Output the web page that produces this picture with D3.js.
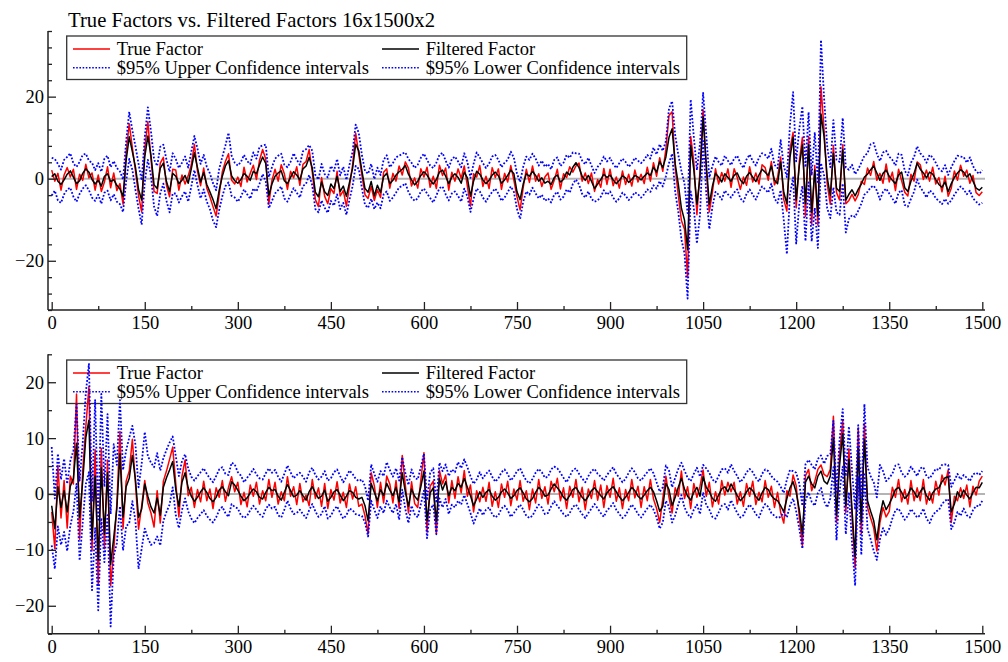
<!DOCTYPE html>
<html><head><meta charset="utf-8">
<script src="https://cdn.jsdelivr.net/npm/d3@7"></script>
<style>
body{margin:0;background:#fff;}
svg{display:block;font-family:"Liberation Serif","Times New Roman",serif;}
</style></head><body>
<svg id="chart" width="1008" height="662"></svg>
<script>
const title = "True Factors vs. Filtered Factors 16x1500x2";
const legendLabels = ["True Factor", "Filtered Factor", "$95% Upper Confidence intervals", "$95% Lower Confidence intervals"];
const xTicks = [0,150,300,450,600,750,900,1050,1200,1350,1500];
const xMinor = [75,225,375,525,675,825,975,1125,1275,1425];
const yTicks1 = [-20,0,20];
const yMinor1 = [-32,-28,-24,-16,-12,-8,-4,4,8,12,16,24,28,32,36];
const yTicks2 = [-20,-10,0,10,20];
const yMinor2 = [-25,-15,-5,5,15,25];
// sample times (every 5 steps)
const times = d3.range(0, 1501, 5);

// ---- Panel 1 ----
const true1 = [
2.1,-0.6,1.3,-2.8,0.9,2.7,0.4,2.3,-2.6,1.1, -0.4,3.5,0.2,1.4,-2.8,0.9,-3.1,-0.8,2.9,-2.2,
1.4,-2.9,-1.2,-6.2,6.4,13.4,7.6,1.9,-4.2,-8.1, 7.2,13.9,4.8,-3.1,-3.6,3.8,5.2,-1.6,-4.4,2.3,
2.1,-2.8,0.9,-1.3,0.7,3.4,8.4,1.8,-1.7,2.6, -2.3,-4.4,-6.8,-9.1,-3.9,1.7,4.2,6.1,-0.4,-1.3,
0.4,-1.9,2.8,-0.8,1.3,3.3,-0.2,4.5,7.1,4.8, -6.2,-0.4,2.3,-0.6,3.4,1.2,-2.6,1.8,0.2,2.9,
-1.6,3.5,4.2,7.1,1.6,-5.1,-6.8,0.3,-4.3,-6.1, -2.4,-3.6,1.8,-4.2,-2.9,-6.7,-1.8,3.4,11.1,5.9,
0.8,-3.9,-4.8,-1.9,-5.3,-2.7,-4.6,1.6,2.4,-2.3, 1.3,-0.6,3.1,0.9,4.1,2.6,-1.8,0.2,-2.3,2.4,
0.4,2.8,-2.1,0.6,-2.4,3.3,0.8,2.6,-2.8,1.6, -0.6,2.4,0.1,3.1,-1.8,-6.7,1.2,0.4,3.2,-1.9,
0.6,-2.4,2.7,0.3,2.4,-2.6,1.3,-0.8,3.2,-0.4, -4.4,-7.6,-2.2,2.3,-0.9,3.1,-0.6,1.2,-1.9,0.4,
1.4,-2.6,-0.4,2.3,-2.5,1.2,0.3,2.9,1.6,3.1, 3.8,-0.6,1.4,-1.2,1.4,-3.1,-0.2,-2.1,2.5,-1.4,
2.3,-1.7,0.4,-2.3,1.9,-1.4,1.1,-1.8,2.1,-0.8, 1.1,-1.2,2.8,-0.6,3.9,0.6,5.1,1.8,7.2,15.4,
16.3,2.7,-4.1,-10.2,-12.3,-24.1,10.3,4.2,-8.8,2.1, 16.8,2.3,-8.1,-3.2,2.4,-1.3,1.5,-0.6,2.4,-2.1,
2.4,0.3,-2.6,0.4,-1.6,2.9,-0.8,1.4,-1.3,3.4, 2.7,-0.4,4.2,-1.5,0.3,5.3,-5.1,-7.9,7.2,11.3,
-7.1,4.2,10.1,-9.2,10.3,-11.1,3.2,-11.3,22.4,11.8, -1.3,-6.2,8.1,-3.4,-5.2,8.3,-6.1,-5.3,-3.8,-5.4,
-3.9,-0.6,-1.4,2.6,0.8,4.2,-0.4,1.3,-1.1,3.6, -0.8,1.6,-2.9,2.3,-0.5,-3.3,-4.2,1.1,-0.6,4.1,
3.4,-0.2,2.1,-0.6,2.8,-1.3,0.3,-3.2,0.6,-4.3, -2.3,1.9,-0.4,3.3,0.6,2.1,-1.1,0.8,-3.4,-4.1,
-3.2];
const filt1 = [
0.5,1.2,-0.6,-1.4,-0.3,1.1,1.9,0.4,-1.2,-0.5, 1.3,2.4,1.6,-0.2,-1.3,-0.4,-1.8,0.6,1.2,-0.7,
-0.2,-1.6,-2.5,-4.3,4.5,10.2,6.6,2.8,-2.6,-5.2, 5.3,10.4,5.7,-1.5,-2.4,2.6,3.8,-0.7,-3.1,1.3,
0.6,-1.2,-0.4,0.8,-1.1,2.4,6.3,2.7,-0.8,1.5, -1.4,-3.2,-5.1,-7.3,-2.8,0.6,3.1,4.4,0.7,-0.5,
-1.1,-0.2,1.3,0.6,-0.4,1.8,1.2,3.4,5.3,3.7, -4.1,-1.3,0.6,1.4,1.9,-0.5,-1.2,0.3,1.7,0.9,
-0.3,2.4,3.1,5.2,2.6,-3.3,-4.4,-0.8,-3.2,-4.1, -1.3,-2.4,0.6,-3.1,-1.8,-4.3,-0.9,2.5,8.4,6.8,
1.9,-2.4,-3.3,-0.7,-4.2,-1.6,-3.4,0.5,1.3,-1.2, -0.4,0.9,1.7,2.3,3.2,1.1,-0.3,-1.5,-0.6,0.8,
1.7,0.9,-0.4,-1.3,-0.2,1.6,2.1,0.6,-1.2,0.4, 1.2,0.3,-1.1,1.6,0.2,-4.3,-0.6,1.8,1.1,-0.3,
-1.2,-0.4,0.9,1.6,0.7,-1.1,-0.3,0.8,2.1,1.2, -3.2,-5.1,-1.3,1.2,0.6,1.8,0.8,-0.6,0.2,-1.1,
-0.6,-1.4,0.3,0.9,-0.8,-0.2,1.6,0.9,2.8,3.9, 2.7,0.6,-0.4,0.8,-0.6,-2.4,-1.3,-0.2,1.1,0.3,
0.9,-0.3,-1.2,-0.4,0.7,0.2,-0.9,-0.2,0.8,0.4, -0.3,0.6,1.4,0.8,2.8,1.6,4.2,2.7,5.3,10.1,
12.2,3.6,-1.3,-7.2,-10.1,-17.3,8.1,2.2,-6.2,0.4, 15.1,3.7,-6.2,-1.8,1.3,0.4,-0.8,1.2,0.3,-0.6,
0.8,1.4,-0.3,-1.2,0.6,1.5,0.4,-0.7,0.9,2.3, 1.6,0.8,3.1,-0.4,-1.2,4.1,-3.3,-6.1,5.2,10.1,
-5.2,3.1,8.2,-6.1,8.3,-8.2,2.1,-9.1,15.8,10.2, 0.3,-4.1,6.2,-2.3,-3.1,7.1,-5.2,-3.8,-2.7,-4.2,
-2.6,-1.3,0.4,1.1,2.2,3.1,1.4,-0.4,1.3,2.1, 0.6,-0.4,-1.2,0.9,1.6,-2.2,-3.1,-0.6,1.3,3.8,
2.3,1.4,0.2,1.6,1.1,-0.2,-1.4,-2.1,-0.8,-3.2, -1.2,0.3,1.4,2.2,1.6,0.4,1.2,-0.6,-2.3,-2.8,
-2.1];
const upper1 = [
5.1,4.8,3.6,2.2,4.6,5.3,6.2,3.7,2.9,4.1, 5.8,6.1,4.4,3.9,2.1,3.8,1.7,4.9,5.6,2.8,
4.3,2.6,1.8,-0.2,9.1,16.3,11.8,7.9,3.6,-0.4, 10.1,17.4,11.6,4.7,3.1,7.8,8.3,4.6,1.7,6.2,
4.8,2.6,3.9,5.4,2.7,6.6,10.4,7.3,3.6,5.8, 2.9,1.3,-1.1,-2.8,2.4,5.3,8.1,11.2,5.6,3.9,
3.2,4.1,5.8,4.3,3.6,6.4,4.9,7.8,8.1,8.3, 0.4,2.8,4.9,5.6,6.1,3.4,2.8,4.1,6.2,4.6,
3.4,6.7,7.2,8.2,6.8,0.9,-0.2,3.6,1.1,0.3, 3.1,1.9,4.8,0.8,2.9,-0.3,3.4,6.6,13.2,11.1,
5.8,1.9,1.2,3.6,-0.1,2.7,0.9,4.6,5.7,2.8, 3.8,5.2,5.6,6.1,6.4,4.8,3.9,2.6,3.4,5.1,
6.1,4.6,3.2,2.6,3.9,5.8,6.3,4.4,2.7,4.8, 5.4,4.2,2.8,6.2,4.1,0.2,3.6,6.4,5.2,3.8,
2.6,3.7,5.4,5.8,4.6,2.8,3.9,4.6,6.6,5.1, 1.2,-0.8,2.9,5.4,4.6,6.1,4.9,3.2,4.4,2.9,
3.6,2.3,4.6,5.2,3.1,3.9,5.8,5.1,6.4,6.2, 6.1,4.4,3.5,5.1,3.2,1.4,2.9,3.8,5.4,4.2,
5.1,3.6,2.6,3.8,4.9,4.1,2.9,3.7,5.1,4.4, 3.8,4.6,5.8,4.9,7.6,5.9,8.4,6.8,9.2,17.1,
18.9,10.6,5.8,1.9,-1.2,-8.4,19.3,10.2,2.1,8.6, 20.9,10.8,0.3,3.1,5.4,4.1,3.2,5.6,4.4,3.3,
4.9,5.6,3.8,2.6,4.7,5.9,4.3,3.2,5.1,6.2, 5.8,4.9,7.3,3.4,2.6,9.4,3.1,0.4,13.2,21.1,
4.2,12.1,17.6,2.8,16.2,0.8,11.3,-1.2,33.8,19.6, 7.9,2.8,14.3,4.6,4.1,14.8,2.7,2.2,3.4,1.1,
2.3,3.9,5.6,6.2,8.4,8.7,6.1,4.3,6.4,6.8, 5.4,4.6,3.2,6.1,5.8,1.9,0.8,3.9,5.3,7.9,
6.2,5.4,3.9,5.8,5.2,3.9,2.4,1.8,3.3,0.9, 2.8,4.3,5.6,5.4,5.3,3.9,5.2,3.1,1.8,1.2,
2.1];
const lower1 = [
-4.1,-2.9,-5.3,-5.9,-3.8,-2.6,-2.2,-4.4,-5.6,-3.7, -2.4,-1.6,-2.8,-4.6,-5.4,-3.9,-6.1,-3.4,-2.9,-5.3,
-3.8,-5.6,-6.2,-8.1,-0.6,4.8,2.2,-2.7,-7.3,-11.2, -0.8,4.6,0.7,-6.8,-9.1,-3.6,-1.2,-5.4,-8.2,-3.6,
-3.6,-5.8,-4.3,-3.1,-5.6,-1.9,2.1,-1.6,-4.8,-2.6, -5.6,-7.4,-10.2,-11.8,-7.6,-4.3,-1.8,-0.9,-4.2,-4.6,
-5.6,-4.4,-2.6,-3.8,-4.9,-2.4,-3.1,-1.2,1.1,-0.6, -7.2,-5.4,-3.6,-2.8,-1.9,-4.8,-5.6,-3.9,-2.3,-3.4,
-4.6,-1.8,-1.2,0.9,-1.6,-7.4,-8.2,-5.3,-7.1,-8.3, -5.4,-6.6,-3.8,-7.4,-5.9,-8.8,-5.1,-1.8,3.1,2.4,
-2.3,-6.4,-7.1,-4.9,-7.4,-5.8,-7.2,-3.8,-3.1,-5.4, -4.6,-3.4,-2.1,-1.8,-1.1,-3.2,-4.6,-5.4,-4.8,-3.1,
-2.4,-3.6,-4.7,-5.8,-4.1,-2.3,-1.9,-3.8,-5.3,-3.6, -3.1,-4.2,-5.6,-2.4,-4.3,-8.1,-4.9,-2.4,-3.1,-4.6,
-5.6,-4.3,-3.2,-2.4,-3.6,-5.4,-4.6,-3.3,-1.9,-3.2, -7.4,-9.8,-5.6,-3.1,-3.9,-2.2,-3.6,-4.8,-3.9,-5.4,
-4.8,-5.8,-3.9,-3.2,-5.1,-4.4,-2.6,-3.4,-1.3,-0.2, -1.4,-3.7,-4.6,-3.1,-4.9,-5.6,-5.3,-4.4,-2.8,-3.9,
-3.1,-4.6,-5.6,-4.8,-3.4,-4.1,-5.2,-4.4,-3.3,-3.8, -4.6,-3.8,-2.6,-3.2,-1.6,-2.4,-0.6,-1.9,0.6,3.8,
6.1,-3.2,-8.1,-14.8,-18.2,-29.2,-3.1,-7.2,-15.8,-8.7, 9.2,-3.4,-12.3,-6.8,-3.2,-3.9,-5.1,-2.9,-3.8,-4.6,
-3.4,-2.6,-4.8,-5.6,-3.7,-2.6,-3.9,-5.1,-3.3,-1.9, -2.6,-3.4,-1.2,-4.8,-5.9,-2.8,-10.1,-18.4,-3.8,0.3,
-15.8,-6.2,-1.8,-15.2,-0.9,-15.3,-7.1,-16.9,3.8,0.8, -7.2,-9.6,-2.1,-8.2,-8.8,-1.2,-13.1,-9.8,-8.9,-9.3,
-7.8,-6.1,-3.9,-3.2,-2.1,-1.7,-2.9,-5.1,-3.2,-2.4, -3.6,-4.8,-6.1,-3.4,-2.8,-6.4,-6.8,-4.9,-3.2,-0.2,
-2.1,-3.2,-4.6,-2.9,-3.4,-4.8,-5.4,-6.2,-4.9,-6.1, -5.3,-3.9,-2.8,-1.9,-2.6,-3.8,-2.9,-4.8,-5.6,-6.3,
-5.9];

// ---- Panel 2 ----
const true2 = [
-3.2,-9.8,5.1,-4.3,2.4,-6.1,3.2,1.8,17.9,-8.1, 4.2,12.1,19.2,-10.2,7.9,-16.3,8.2,-9.8,6.1,-16.4,
-10.1,-1.8,11.2,-6.2,2.3,4.1,9.8,1.9,-6.3,-2.1, 2.4,-1.6,-3.4,-5.9,0.6,-5.2,2.3,4.1,6.2,8.4,
1.9,-4.1,3.2,6.1,-0.3,1.2,-2.4,0.8,-1.4,2.3, -1.2,0.9,-2.6,1.1,-0.6,2.4,-1.3,1.2,3.1,0.4,
2.1,-1.9,0.3,-2.3,1.6,-0.4,2.1,-1.8,0.6,-1.2, 2.6,-0.6,2.1,-1.8,0.4,-1.2,3.1,-0.4,1.3,-1.9,
1.9,-1.4,-0.2,-2.1,2.6,-0.8,1.1,-2.2,1.9,-2.6, 0.8,-1.1,2.2,-1.6,0.3,-2.4,1.8,-0.9,1.3,-2.2,
-1.8,-3.9,-7.1,3.8,1.5,-2.4,2.1,-1.6,3.2,1.8, -1.6,2.4,-2.6,6.9,1.6,-3.4,2.2,-1.7,-2.4,2.5,
7.4,-6.8,1.4,2.3,-7.1,4.2,1.8,3.4,-1.6,2.4, -0.8,3.1,0.2,4.2,-0.4,1.6,-3.2,0.6,-1.4,1.2,
-1.3,2.1,-2.2,0.4,-2.4,1.8,-0.6,2.3,-2.1,0.9, -1.1,2.4,-1.3,0.6,-2.8,0.9,-1.6,2.6,-0.8,1.3,
-1.8,2.3,0.4,2.8,-1.2,1.1,-2.6,1.4,-0.6,2.6, -1.4,1.2,-2.8,0.9,-0.8,2.4,-1.1,1.6,-2.4,1.5,
-0.6,2.8,-1.3,1.1,-2.6,0.8,-1.2,2.6,-0.7,1.4, -2.4,1.3,-1.2,2.6,-0.9,-2.6,-5.1,-0.8,3.2,-0.6,
-3.4,1.1,-0.4,4.1,-0.8,1.3,-2.6,1.9,-0.6,1.4, 4.3,-0.4,2.1,-2.3,0.4,-1.8,2.4,-0.2,2.1,0.4,
2.1,-1.8,0.4,-2.2,1.9,-0.4,2.3,-1.9,0.3,-1.4, 2.4,-0.6,1.4,-2.4,0.3,-3.3,-5.2,0.6,-0.4,3.4,
1.5,-4.1,-9.2,3.3,4.4,0.6,2.3,4.4,5.2,3.5, 3.1,4.4,13.9,-5.1,7.2,13.1,-3.3,8.1,-4.1,-13.2,
11.8,-7.1,12.6,-2.4,-4.3,-6.1,-10.2,-5.1,-2.4,-4.1, -3.1,1.2,-0.6,2.6,-1.4,0.8,-1.8,2.4,-1.2,1.1,
-1.2,2.6,-1.8,0.4,-1.6,2.3,-0.2,3.4,1.6,4.3, -5.1,-0.4,-1.2,1.1,-0.8,1.6,-2.3,1.4,-0.2,2.3,
3.2];
const filt2 = [
-2.1,-6.2,1.3,-2.4,0.6,-3.2,1.4,2.8,9.1,-4.2, 2.3,10.1,13.2,-8.1,3.2,-11.8,4.7,-7.2,3.8,-12.6,
-7.8,-2.6,7.2,-4.1,1.3,2.8,6.9,2.6,-4.2,-2.7, 1.8,-0.4,-2.3,-3.4,-0.7,-3.8,1.2,2.9,4.3,5.8,
0.8,-2.2,2.1,3.8,1.1,-0.4,-1.3,-0.6,0.4,1.1, 0.3,-0.8,-1.4,-0.6,0.7,1.3,0.4,-0.3,2.2,1.6,
0.7,-0.4,-1.2,-0.7,0.2,0.9,0.4,-0.6,-0.9,0.3, 1.2,0.6,0.8,-0.4,-1.1,0.3,1.7,0.6,-0.5,-0.2,
0.6,-0.3,-1.1,0.4,1.3,0.2,-0.8,-0.4,0.7,-1.3, -0.6,0.4,0.8,-0.2,-1.2,-0.4,0.6,0.3,-0.6,-0.9,
-0.6,-2.1,-4.8,1.9,0.3,-1.2,0.8,-0.3,1.9,0.7, -0.3,1.2,-1.4,3.8,0.4,-2.2,0.9,-0.4,-1.1,1.3,
4.1,-4.8,0.2,1.1,-4.9,2.8,0.7,2.2,-0.3,1.2, 0.6,1.9,1.2,2.8,1.2,-0.3,-2.1,-0.9,0.4,-0.6,
0.3,0.8,-0.4,-1.1,-0.6,0.4,0.9,0.2,-0.8,-0.3, 0.6,1.1,0.2,-0.9,-1.4,-0.8,0.3,1.2,0.6,-0.4,
-0.2,0.9,1.8,1.1,0.4,-0.6,-1.1,-0.3,0.8,1.2, 0.3,-0.6,-1.2,-0.4,0.6,1.1,0.4,-0.3,-0.9,0.2,
0.8,1.3,0.4,-0.5,-1.2,-0.6,0.3,1.2,0.6,-0.4, -0.9,-0.2,0.6,1.2,0.4,-1.2,-3.1,-2.2,1.9,0.8,
-2.1,-0.6,1.2,2.8,0.9,-0.4,-1.1,0.3,1.2,-0.4, 3.1,1.2,0.4,-0.8,-1.3,-0.2,0.9,1.3,0.4,1.8,
0.8,-0.3,-1.2,-0.6,0.4,1.1,0.6,-0.5,-1.1,0.2, 1.2,0.8,-0.3,-0.9,-1.2,-2.1,-3.2,-0.8,1.1,2.2,
0.3,-2.8,-7.2,2.1,3.2,1.8,1.1,3.2,4.1,2.3, 1.8,3.2,10.1,-3.8,5.2,10.8,-2.1,6.2,-2.8,-11.2,
8.2,-5.1,9.8,-1.2,-3.1,-4.8,-8.2,-3.9,-1.2,-2.8, -1.8,-0.6,0.8,1.2,0.3,-0.8,-0.2,1.1,0.4,-0.6,
0.4,1.2,-0.3,-1.1,0.2,0.9,1.1,2.2,2.9,3.1, -3.2,-1.8,0.4,-0.6,0.7,-0.2,-0.9,0.3,1.2,1.1,
2.1];
const upper2 = [
8.4,-0.8,7.2,2.6,6.3,1.8,5.9,7.8,16.1,2.4, 9.2,18.1,23.3,-1.2,16.8,-4.6,17.9,1.3,14.3,-3.6,
8.9,5.2,16.8,4.3,7.8,10.1,12.2,8.8,1.2,5.4, 11.1,6.8,5.6,4.8,7.3,4.2,6.4,7.9,9.2,10.3,
6.8,3.2,5.9,7.1,4.6,3.1,2.4,3.2,3.9,4.6, 3.6,2.8,2.1,3.2,4.4,4.8,3.6,3.4,5.6,5.3,
3.9,3.3,2.1,2.9,3.6,4.5,3.5,2.8,2.6,3.7, 4.6,3.8,4.3,3.1,2.2,3.6,5.1,3.9,2.8,3.4,
3.8,3.1,2.2,3.9,4.7,3.4,2.6,3.1,4.1,2.4, 2.8,3.9,4.4,3.2,2.1,3.1,4.2,3.6,2.7,2.3,
2.6,1.4,-1.2,5.3,3.6,2.2,4.1,3.2,5.7,4.3, 3.1,4.6,2.4,6.6,3.8,1.6,4.4,2.9,2.6,4.8,
7.2,-1.1,3.8,4.6,-1.6,5.6,4.1,5.3,3.2,4.4, 3.9,5.7,4.6,6.2,4.8,3.2,1.8,2.6,3.9,2.8,
3.6,4.2,3.1,2.2,2.8,3.9,4.4,3.6,2.4,3.1, 4.1,4.6,3.4,2.4,1.9,2.7,3.8,4.5,3.9,2.9,
3.1,4.4,4.9,4.6,3.8,2.9,2.1,3.2,4.3,4.6, 3.6,2.8,2.1,3.2,4.1,4.5,3.6,3.1,2.4,3.4,
4.1,4.8,3.6,2.9,2.1,2.7,3.8,4.6,3.9,2.8, 2.4,3.2,3.9,4.6,3.7,2.1,0.4,1.2,5.1,4.2,
1.2,2.9,4.5,5.6,4.2,2.9,2.3,3.6,4.7,3.1, 5.2,4.6,3.8,2.6,2.1,3.2,4.4,4.6,3.8,5.3,
4.1,3.2,2.1,2.8,3.9,4.5,3.9,2.9,2.2,3.6, 4.4,4.1,3.2,2.6,2.2,1.3,0.2,2.6,4.3,4.1,
3.8,1.9,-2.1,5.3,6.1,5.2,4.4,6.3,6.9,5.4, 6.8,7.1,13.1,0.4,9.8,15.2,3.2,12.1,4.2,-2.8,
12.3,-0.8,16.1,4.8,3.2,2.1,-0.6,5.2,4.1,2.3, 2.9,3.6,5.1,5.3,3.8,3.1,3.6,4.9,4.1,3.2,
4.6,4.8,3.2,2.8,3.6,4.5,4.3,5.2,5.3,5.2, 1.3,2.4,3.6,2.6,3.4,2.9,2.3,3.5,3.8,3.4,
4.1];
const lower2 = [
-9.2,-13.4,-5.8,-9.1,-6.8,-10.2,-5.7,-3.1,1.8,-11.9, -5.1,1.8,3.9,-17.2,-6.1,-20.8,-4.3,-12.2,-3.8,-23.7,
-11.1,-8.8,-2.2,-10.1,-5.8,-5.2,-1.3,-4.8,-13.4,-9.8, -6.2,-7.9,-9.1,-8.8,-7.6,-9.2,-4.8,-3.2,-1.9,1.2,
-3.8,-6.1,-2.9,-0.8,-3.1,-4.4,-5.2,-4.3,-3.6,-2.9, -3.9,-4.6,-5.1,-4.2,-2.9,-2.3,-3.4,-4.1,-1.8,-2.3,
-2.6,-3.8,-4.3,-3.9,-2.9,-2.1,-2.8,-3.6,-4.1,-2.7, -1.9,-2.6,-2.3,-3.8,-4.2,-2.8,-1.2,-2.6,-3.6,-3.4,
-2.8,-3.6,-4.3,-2.9,-1.8,-3.1,-4.1,-3.6,-2.2,-4.4, -3.9,-2.8,-2.2,-3.4,-4.4,-3.8,-2.6,-2.9,-3.6,-3.8,
-3.9,-5.1,-7.6,-1.2,-2.8,-4.3,-2.2,-3.4,-1.2,-2.4, -3.4,-1.8,-4.6,0.8,-2.7,-5.2,-2.1,-3.6,-4.2,-1.8,
0.6,-7.9,-2.8,-1.9,-7.2,-0.8,-2.4,-0.9,-3.6,-1.9, -2.4,-1.2,-1.9,-0.2,-1.8,-3.4,-5.3,-3.9,-2.6,-3.8,
-2.8,-2.4,-3.6,-4.2,-3.8,-2.6,-2.1,-2.9,-4.1,-3.4, -2.6,-1.9,-2.8,-3.9,-4.3,-3.9,-2.8,-1.9,-2.4,-3.6,
-3.4,-2.2,-1.3,-2.1,-2.8,-3.6,-4.1,-3.4,-2.3,-1.9, -2.8,-3.6,-4.3,-3.4,-2.6,-1.8,-2.6,-3.4,-4.1,-2.9,
-2.4,-1.6,-2.8,-3.6,-4.3,-3.8,-2.8,-1.9,-2.6,-3.6, -4.2,-3.4,-2.6,-1.9,-2.8,-4.2,-6.2,-5.1,-1.2,-2.3,
-5.1,-3.8,-1.9,-0.2,-2.4,-3.6,-4.2,-2.8,-1.9,-3.6, 0.3,-1.9,-2.8,-4.1,-4.4,-3.3,-2.1,-1.8,-2.8,-1.1,
-2.3,-3.4,-4.2,-3.8,-2.6,-1.9,-2.6,-3.6,-4.2,-2.8, -1.8,-2.3,-3.4,-3.9,-4.3,-4.1,-3.2,-4.2,-2.1,-0.8,
-3.1,-6.2,-9.8,-1.2,0.3,-1.4,-2.1,0.2,1.1,-1.3, -2.4,-0.8,4.8,-8.3,0.4,4.9,-7.2,0.3,-8.8,-16.4,
3.2,-10.9,3.8,-6.2,-8.1,-10.2,-11.8,-8.1,-6.1,-7.3, -6.2,-4.4,-2.9,-2.6,-3.6,-4.6,-3.9,-2.7,-3.4,-4.2,
-3.8,-2.6,-4.4,-5.2,-3.9,-3.1,-2.9,-1.8,-1.2,-0.9, -6.3,-5.1,-3.2,-3.9,-2.6,-3.8,-4.2,-2.9,-2.1,-2.2,
-1.2];

const svg = d3.select("#chart");
const FONT = 18.5;
const x = d3.scaleLinear().domain([0,1500]).range([51.7, 982.3]);
const axisX0 = 48, axisX1 = 985;

svg.append("text").attr("x", 68).attr("y", 27)
  .attr("font-size", 20.7).attr("fill", "#000").text(title);

const panels = [
  {data:[true1,filt1,upper1,lower1], domain:[-32,36], range:[310,31], major:yTicks1, minor:yMinor1, legendTop:36},
  {data:[true2,filt2,upper2,lower2], domain:[-25,25], range:[633.7,354.3], major:yTicks2, minor:yMinor2, legendTop:360}
];
const styles = [
  {stroke:"#ff0000", width:1.5, dash:null},
  {stroke:"#000000", width:1.5, dash:null},
  {stroke:"#0000ff", width:1.8, dash:"1.8,1.8"},
  {stroke:"#0000ff", width:1.8, dash:"1.8,1.8"}
];

panels.forEach(p => {
  const y = d3.scaleLinear().domain(p.domain).range(p.range);
  const g = svg.append("g");
  const bottom = p.range[0], top = p.range[1];

  // zero reference line
  g.append("line").attr("x1", axisX0).attr("x2", axisX1)
    .attr("y1", y(0)).attr("y2", y(0))
    .attr("stroke", "#b4b4b4").attr("stroke-width", 2);

  // legend (drawn beneath data)
  const lt = p.legendTop;
  const lg = g.append("g");
  lg.append("rect").attr("x", 66.7).attr("y", lt).attr("width", 620).attr("height", 43.5)
    .attr("fill", "none").attr("stroke", "#333").attr("stroke-width", 1.3);
  const pos = [[73,lt+13],[382,lt+13],[73,lt+31.7],[382,lt+31.7]];
  legendLabels.forEach((lab,i) => {
    const [lx, ly] = pos[i];
    const s = styles[i];
    lg.append("line").attr("x1", lx).attr("x2", lx+37).attr("y1", ly).attr("y2", ly)
      .attr("stroke", s.stroke).attr("stroke-width", Math.min(s.width, 1.5))
      .attr("stroke-dasharray", s.dash ? "1.6,1.6" : null);
    lg.append("text").attr("x", lx+43.7).attr("y", ly+6).attr("font-size", FONT)
      .attr("fill", "#000").text(lab);
  });

  // series
  p.data.forEach((arr, i) => {
    const s = styles[i];
    const line = d3.line().x((d,k) => x(times[k])).y(d => y(d));
    g.append("path").datum(arr).attr("d", line)
      .attr("fill", "none").attr("stroke", s.stroke).attr("stroke-width", s.width)
      .attr("stroke-linejoin", "round")
      .attr("stroke-dasharray", s.dash);
  });

  // axes
  const ya = g.append("g").attr("transform", `translate(${axisX0},0)`)
    .call(d3.axisLeft(y).tickValues(p.major).tickSize(-8).tickSizeOuter(0).tickPadding(4));
  const yMin = g.append("g").attr("transform", `translate(${axisX0},0)`)
    .call(d3.axisLeft(y).tickValues(p.minor).tickSize(-4).tickSizeOuter(0).tickFormat(""));
  yMin.select(".domain").remove();
  ya.select(".domain").attr("d", `M0,${bottom}V${top}`);

  const xa = g.append("g").attr("transform", `translate(0,${bottom})`)
    .call(d3.axisBottom(x).tickValues(xTicks).tickSize(-8).tickSizeOuter(0).tickPadding(6).tickFormat(d3.format("d")));
  xa.select(".domain").attr("d", `M${axisX0},0H${axisX1}`);
  const xMin = g.append("g").attr("transform", `translate(0,${bottom})`)
    .call(d3.axisBottom(x).tickValues(xMinor).tickSize(-4).tickSizeOuter(0).tickFormat(""));
  xMin.select(".domain").remove();

  g.selectAll(".domain").attr("stroke", "#222").attr("stroke-width", 1.5);
  g.selectAll(".tick line").attr("stroke", "#222").attr("stroke-width", 1.3);
  g.selectAll(".tick text").attr("font-size", FONT).attr("font-family", "Liberation Serif, serif").attr("fill", "#000");
});
</script>
</body></html>
